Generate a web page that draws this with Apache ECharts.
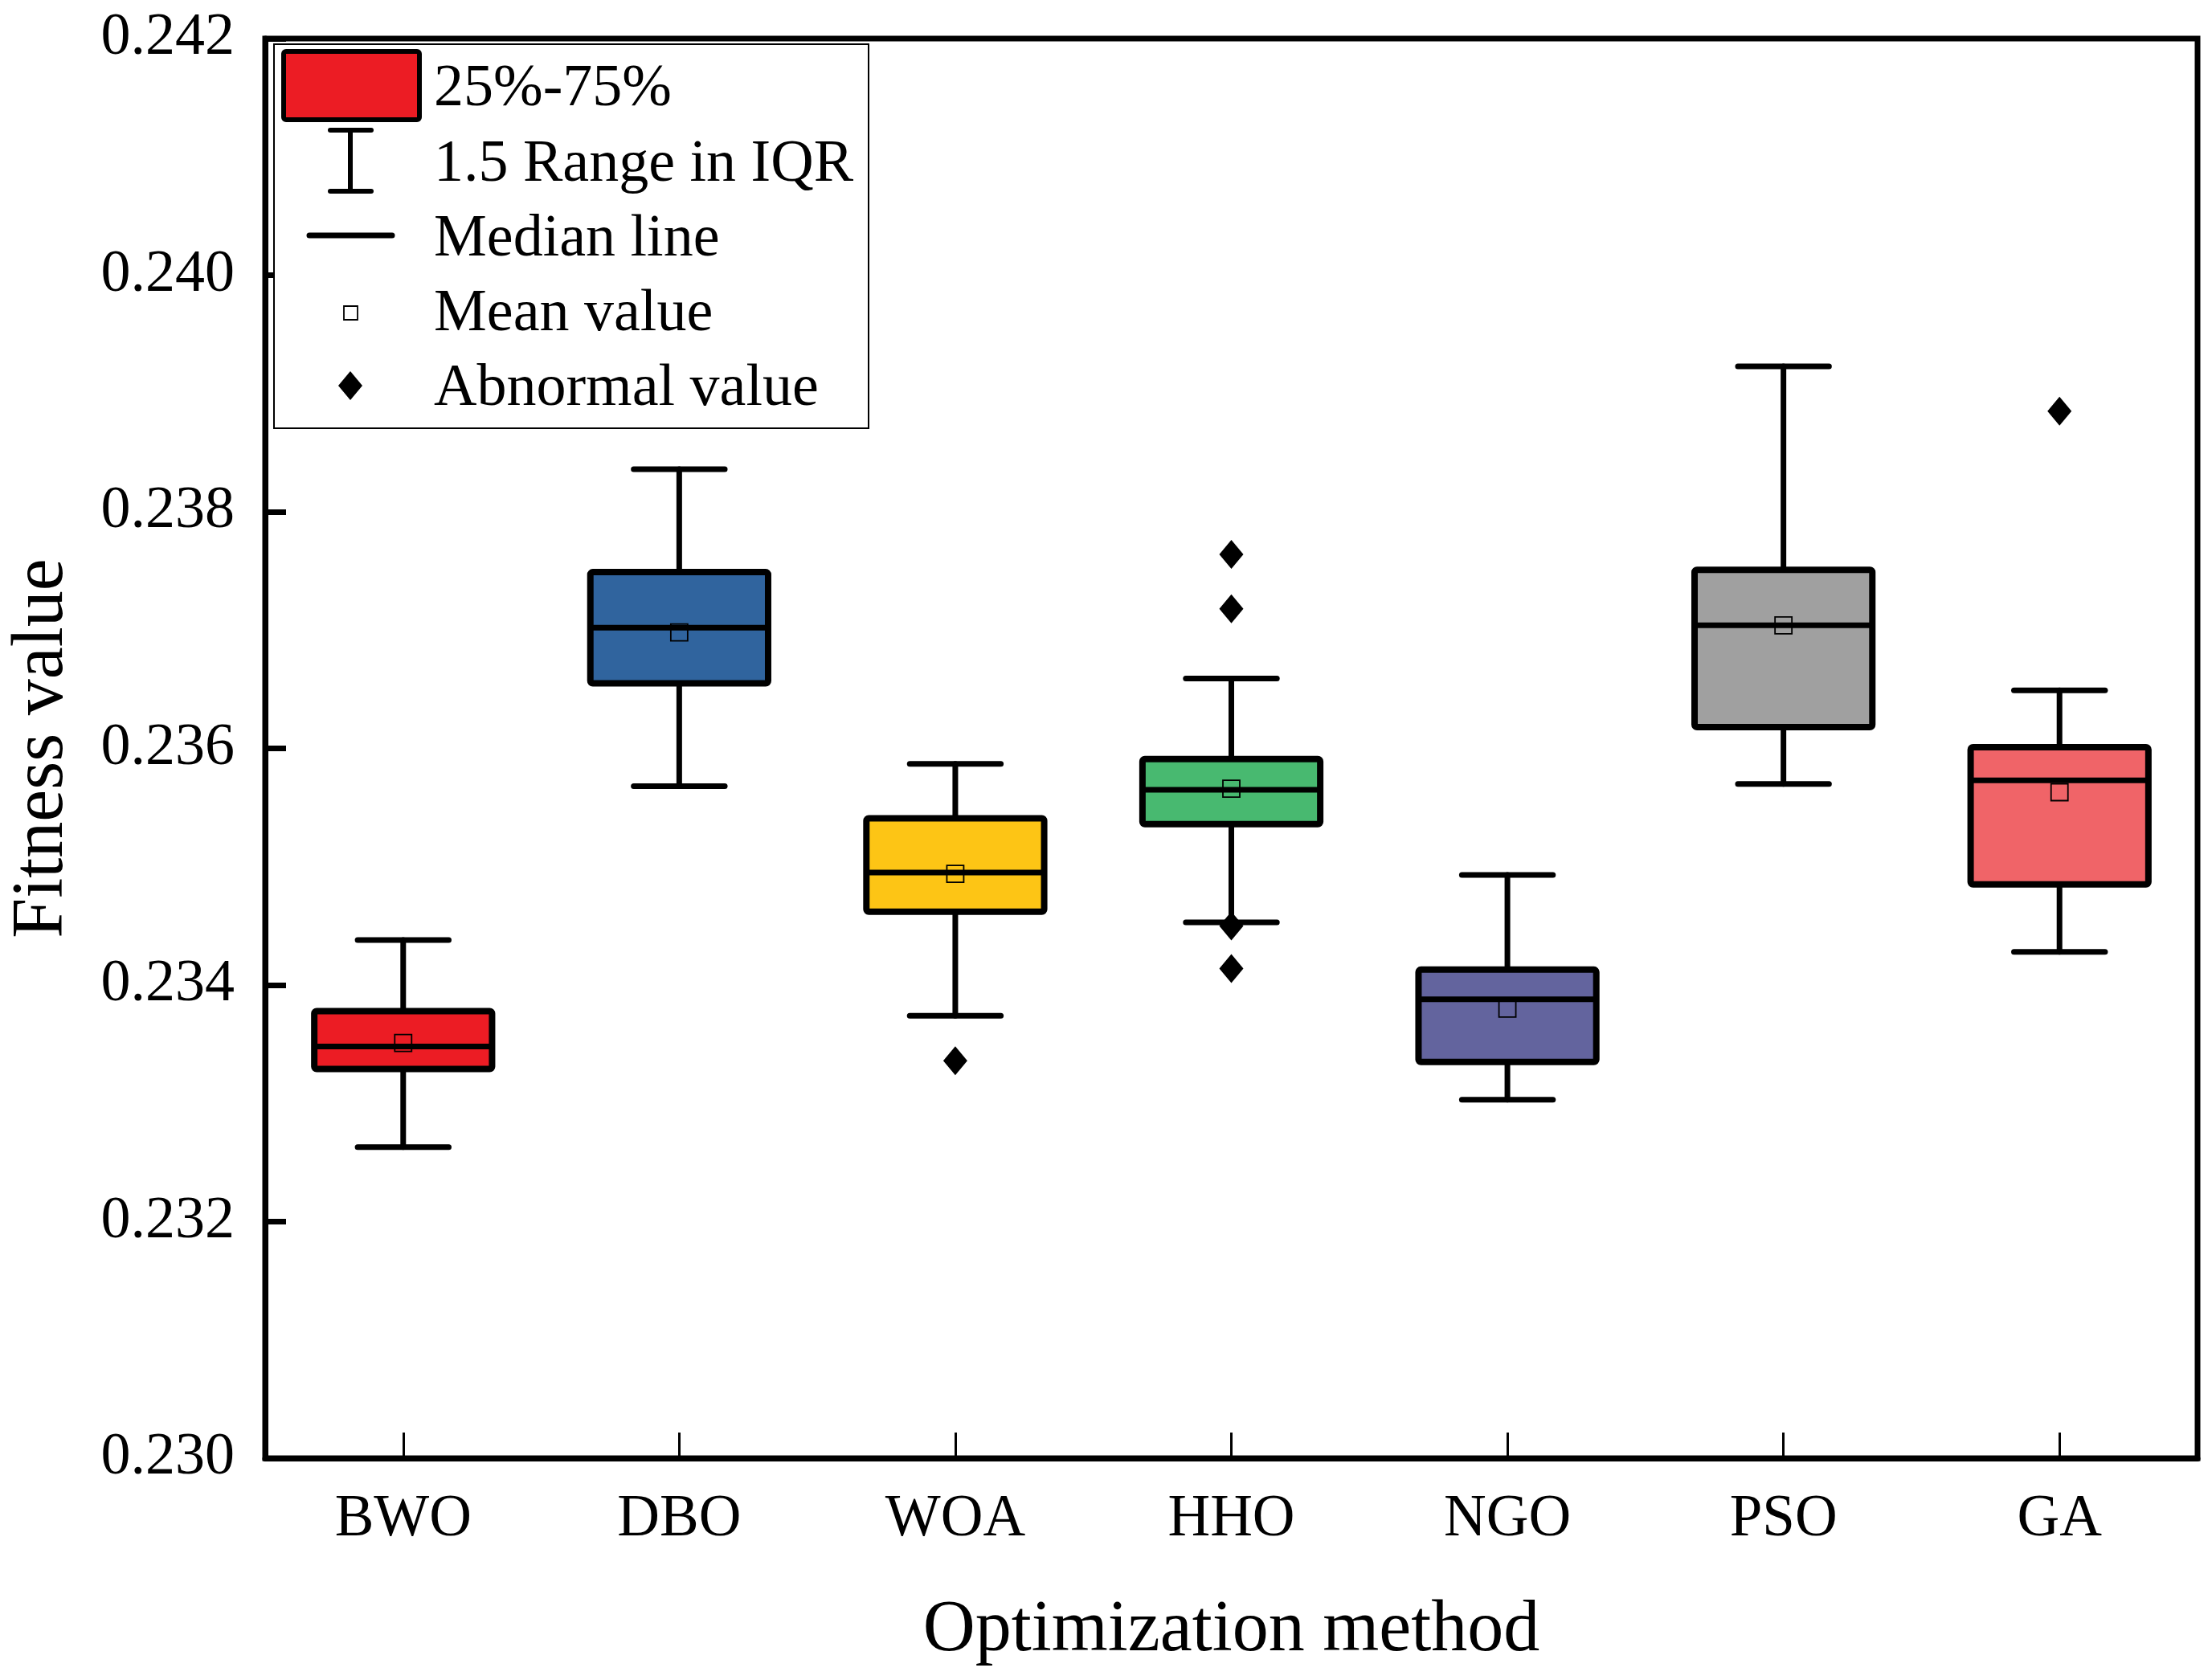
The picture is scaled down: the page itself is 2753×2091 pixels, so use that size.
<!DOCTYPE html>
<html>
<head>
<meta charset="utf-8">
<script src="https://cdn.jsdelivr.net/npm/echarts@6/dist/echarts.min.js"></script>
<style>
  html, body { margin: 0; padding: 0; background: #fff; }
  #chart { width: 2753px; height: 2091px; }
</style>
</head>
<body>
<div id="chart"></div>
<script>
// 数据
var categories = ['BWO', 'DBO', 'WOA', 'HHO', 'NGO', 'PSO', 'GA'];
var lowerWhisker = [0.23263, 0.23568, 0.23374, 0.23453, 0.23303, 0.23570, 0.23428];
var q1 = [0.23329, 0.23655, 0.23462, 0.23536, 0.23335, 0.23618, 0.23485];
var median = [0.23348, 0.23702, 0.23495, 0.23565, 0.23388, 0.23704, 0.23573];
var q3 = [0.23378, 0.23749, 0.23541, 0.23591, 0.23413, 0.23751, 0.23601];
var upperWhisker = [0.23438, 0.23836, 0.23587, 0.23659, 0.23493, 0.23923, 0.23649];
var means = [0.23351, 0.23698, 0.23494, 0.23566, 0.23380, 0.23704, 0.23563];
var boxColors = ['#EC1C24', '#30649E', '#FDC515', '#48B970', '#63649E', '#A0A0A0', '#F06468'];
var outlierCats = ['WOA', 'HHO', 'HHO', 'HHO', 'HHO', 'GA'];
var outlierValues = [0.23336, 0.23764, 0.23718, 0.23450, 0.23414, 0.23885];
var yTicks = [0.230, 0.232, 0.234, 0.236, 0.238, 0.240, 0.242];

var FONT = "'Liberation Serif', 'Times New Roman', serif";

var boxData = categories.map(function (c, i) {
    return [i, lowerWhisker[i], q1[i], median[i], q3[i], upperWhisker[i], means[i]];
});
var outlierData = outlierCats.map(function (c, i) {
    return [categories.indexOf(c), outlierValues[i]];
});

var chart = echarts.init(document.getElementById('chart'));

// 箱体、须线、中位线、均值
function renderBox(params, api) {
    var idx = api.value(0);
    var band = api.size([1, 0])[0];
    var halfBox = band * 0.322;
    var halfCap = band * 0.165;
    var pMin = api.coord([idx, api.value(1)]);
    var pQ1 = api.coord([idx, api.value(2)]);
    var pMed = api.coord([idx, api.value(3)]);
    var pQ3 = api.coord([idx, api.value(4)]);
    var pMax = api.coord([idx, api.value(5)]);
    var pMean = api.coord([idx, api.value(6)]);
    var x = pMed[0];
    var lineStyle = { stroke: '#000', lineWidth: 7, lineCap: 'round' };
    var meanSize = 21;
    return {
        type: 'group',
        children: [
            { type: 'line', shape: { x1: x, y1: pMax[1], x2: x, y2: pQ3[1] }, style: lineStyle },
            { type: 'line', shape: { x1: x, y1: pMin[1], x2: x, y2: pQ1[1] }, style: lineStyle },
            { type: 'line', shape: { x1: x - halfCap, y1: pMax[1], x2: x + halfCap, y2: pMax[1] }, style: lineStyle },
            { type: 'line', shape: { x1: x - halfCap, y1: pMin[1], x2: x + halfCap, y2: pMin[1] }, style: lineStyle },
            {
                type: 'rect',
                shape: { x: x - halfBox, y: pQ3[1], width: halfBox * 2, height: pQ1[1] - pQ3[1], r: 3 },
                style: { fill: boxColors[idx], stroke: '#000', lineWidth: 8, lineJoin: 'round' }
            },
            { type: 'line', shape: { x1: x - halfBox, y1: pMed[1], x2: x + halfBox, y2: pMed[1] }, style: { stroke: '#000', lineWidth: 7 } },
            {
                type: 'rect',
                shape: { x: x - meanSize / 2, y: pMean[1] - meanSize / 2, width: meanSize, height: meanSize },
                style: { fill: 'none', stroke: '#000', lineWidth: 1.8 }
            }
        ]
    };
}

var textStyle = { fontFamily: FONT, fontSize: 74, fill: '#000', textVerticalAlign: 'middle', verticalAlign: 'middle' };

var option = {
    backgroundColor: '#fff',
    animation: false,
    grid: {
        left: 321,
        right: 18,
        top: 48,
        bottom: 276,
        show: true,
        borderColor: '#000',
        borderWidth: 7,
        backgroundColor: 'transparent'
    },
    xAxis: {
        type: 'category',
        data: categories,
        boundaryGap: true,
        name: 'Optimization method',
        nameLocation: 'middle',
        nameGap: 170,
        nameTextStyle: { fontFamily: FONT, fontSize: 90, color: '#000' },
        axisLine: { show: true, lineStyle: { color: '#000', width: 7 } },
        axisTick: { show: true, inside: true, alignWithLabel: true, length: 32, lineStyle: { color: '#000', width: 3 } },
        axisLabel: { fontFamily: FONT, fontSize: 73, color: '#000', margin: 40 },
        splitLine: { show: false }
    },
    yAxis: {
        type: 'value',
        min: 0.230,
        max: 0.242,
        interval: 0.002,
        name: 'Fitness value',
        nameLocation: 'middle',
        nameGap: 232,
        nameTextStyle: { fontFamily: FONT, fontSize: 90, color: '#000' },
        axisLine: { show: true, lineStyle: { color: '#000', width: 7 } },
        axisTick: { show: true, inside: true, length: 26, lineStyle: { color: '#000', width: 7 } },
        axisLabel: {
            fontFamily: FONT, fontSize: 74, color: '#000', margin: 38,
            formatter: function (v) { return v.toFixed(3); }
        },
        splitLine: { show: false }
    },
    series: [
        {
            name: '25%-75%',
            type: 'custom',
            renderItem: renderBox,
            data: boxData,
            encode: { x: 0, y: [1, 2, 3, 4, 5, 6] },
            z: 3
        },
        {
            name: 'Abnormal value',
            type: 'scatter',
            symbol: 'diamond',
            symbolSize: [30, 36],
            itemStyle: { color: '#000', opacity: 1 },
            data: outlierData,
            z: 4
        }
    ],
    graphic: [
        // 图例
        {
            type: 'rect', left: 340, top: 54, z: 10,
            shape: { width: 740, height: 478 },
            style: { fill: '#fff', stroke: '#000', lineWidth: 2 }
        },
        {
            type: 'rect', z: 11,
            shape: { x: 353, y: 64, width: 169, height: 85, r: 3 },
            style: { fill: '#EC1C24', stroke: '#000', lineWidth: 6 }
        },
        { type: 'line', z: 11, shape: { x1: 436, y1: 162, x2: 436, y2: 238 }, style: { stroke: '#000', lineWidth: 6 } },
        { type: 'line', z: 11, shape: { x1: 411, y1: 162, x2: 462, y2: 162 }, style: { stroke: '#000', lineWidth: 6, lineCap: 'round' } },
        { type: 'line', z: 11, shape: { x1: 411, y1: 238, x2: 462, y2: 238 }, style: { stroke: '#000', lineWidth: 6, lineCap: 'round' } },
        { type: 'line', z: 11, shape: { x1: 385, y1: 293, x2: 488, y2: 293 }, style: { stroke: '#000', lineWidth: 7, lineCap: 'round' } },
        { type: 'rect', z: 11, shape: { x: 428, y: 381, width: 17, height: 17 }, style: { fill: '#fff', stroke: '#000', lineWidth: 1.8 } },
        { type: 'polygon', z: 11, shape: { points: [[436, 462], [451, 480], [436, 498], [421, 480]] }, style: { fill: '#000' } },
        { type: 'text', z: 11, x: 540, y: 112, style: Object.assign({ text: '25%-75%' }, textStyle) },
        { type: 'text', z: 11, x: 540, y: 206, style: Object.assign({ text: '1.5 Range in IQR' }, textStyle) },
        { type: 'text', z: 11, x: 540, y: 299, style: Object.assign({ text: 'Median line' }, textStyle) },
        { type: 'text', z: 11, x: 540, y: 392, style: Object.assign({ text: 'Mean value' }, textStyle) },
        { type: 'text', z: 11, x: 540, y: 485, style: Object.assign({ text: 'Abnormal value' }, textStyle) }
    ]
};

chart.setOption(option);
</script>
</body>
</html>
